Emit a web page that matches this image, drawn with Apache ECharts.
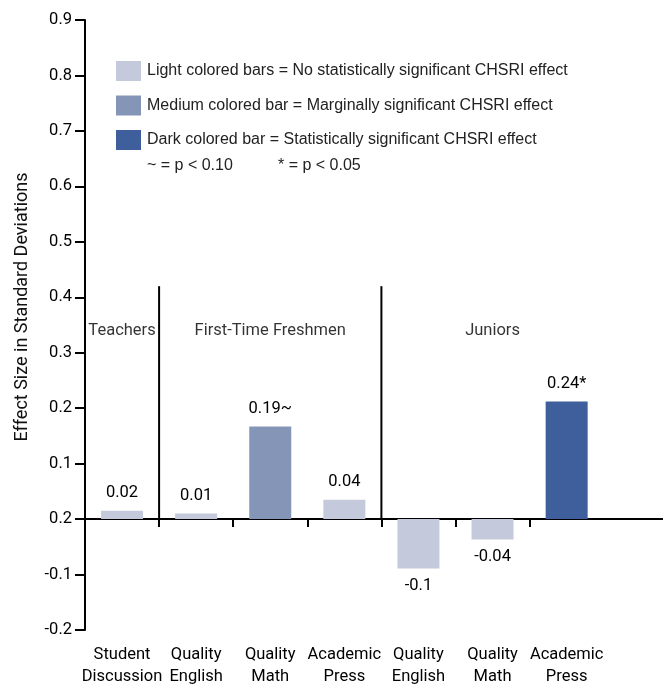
<!DOCTYPE html>
<html>
<head>
<meta charset="utf-8">
<title>Effect Size in Standard Deviations</title>
<script src="https://cdn.jsdelivr.net/npm/echarts@6/dist/echarts.min.js"></script>
<style>
  html, body { margin: 0; padding: 0; background: #fff; }
  #chart { width: 663px; height: 686px; }
</style>
</head>
<body>
<div id="chart"></div>
<script>
var categories = ['Student\nDiscussion', 'Quality\nEnglish', 'Quality\nMath', 'Academic\nPress', 'Quality\nEnglish', 'Quality\nMath', 'Academic\nPress', ''];
var values = [0.015, 0.01, 0.167, 0.035, -0.089, -0.037, 0.212];
var valueLabels = ['0.02', '0.01', '0.19~', '0.04', '-0.1', '-0.04', '0.24*'];
// 0 = light, 1 = medium, 2 = dark
var significance = [0, 0, 1, 0, 0, 0, 2];
var levelNames = [
  'Light colored bars = No statistically significant CHSRI effect',
  'Medium colored bar = Marginally significant CHSRI effect',
  'Dark colored bar = Statistically significant CHSRI effect'
];
var groups = ['Teachers', 'First-Time Freshmen', 'Juniors'];
var groupCenters = [0, 2, 5];
var groupDividers = [1, 4];
var yTickLabels = ['-0.2', '-0.1', '0.2', '0.1', '0.2', '0.3', '0.4', '0.5', '0.6', '0.7', '0.8', '0.9'];

var levelColors = ['#C4C9DB', '#8595B7', '#3E5F9C'];
var regular = '"Liberation Sans", Arial, sans-serif';
var narrow = 'Roboto, sans-serif';
var groupLabelLevel = 0.34;
var dividerTop = 0.42;

var chart = echarts.init(document.getElementById('chart'));

var series = levelNames.map(function (name, level) {
  return {
    name: name,
    type: 'bar',
    xAxisIndex: 0,
    barWidth: 42,
    barGap: '-100%',
    itemStyle: { color: levelColors[level] },
    label: {
      show: true,
      distance: 9,
      fontFamily: narrow,
      fontSize: 16.5,
      color: '#000',
      formatter: function (p) { return valueLabels[p.dataIndex]; }
    },
    data: values.map(function (v, i) {
      if (significance[i] !== level) return '-';
      return { value: v, label: { position: v < 0 ? 'bottom' : 'top' } };
    })
  };
});

// group titles
series.push({
  type: 'scatter',
  xAxisIndex: 0,
  symbolSize: 1,
  silent: true,
  itemStyle: { color: 'transparent' },
  label: {
    show: true,
    position: 'inside',
    fontFamily: narrow,
    fontSize: 16.5,
    color: '#000',
    formatter: '{b}'
  },
  data: groups.map(function (g, i) {
    return { name: g, value: [groupCenters[i], groupLabelLevel] };
  })
});

// vertical dividers between groups
groupDividers.forEach(function (d) {
  series.push({
    type: 'line',
    xAxisIndex: 2,
    symbol: 'none',
    silent: true,
    lineStyle: { color: '#000', width: 2 },
    data: [[d, 0], [d, dividerTop]]
  });
});

chart.setOption({
  animation: false,
  grid: { left: 85, top: 20, bottom: 56, width: 8 * 74.1, outerBoundsMode: 'none' },
  legend: {
    data: levelNames,
    orient: 'vertical',
    left: 111,
    top: 56,
    itemWidth: 25,
    itemHeight: 20,
    itemGap: 14.5,
    icon: 'rect',
    selectedMode: false,
    textStyle: { fontFamily: regular, fontSize: 16, color: '#222', padding: [10, 0, 0, 1] }
  },
  graphic: [
    { type: 'text', left: 147, top: 158, style: { text: '~ = p < 0.10', font: '16px ' + regular, fill: '#222' } },
    { type: 'text', left: 278, top: 158, style: { text: '* = p < 0.05', font: '16px ' + regular, fill: '#222' } }
  ],
  xAxis: [
    {
      type: 'category',
      data: categories,
      position: 'bottom',
      axisLine: { show: false, onZero: false },
      axisTick: { show: false },
      axisLabel: { interval: 0, margin: 14, fontFamily: narrow, fontSize: 16.5, lineHeight: 22, color: '#000' }
    },
    {
      type: 'category',
      data: categories,
      position: 'top',
      axisLine: { show: true, onZero: true, lineStyle: { color: '#000', width: 2 } },
      axisTick: {
        show: true,
        inside: true,
        length: 8,
        lineStyle: { color: '#000', width: 2 },
        interval: function (i) { return i >= 1 && i <= 6; }
      },
      axisLabel: { show: false }
    },
    { type: 'value', min: 0, max: 8, show: false }
  ],
  yAxis: {
    type: 'value',
    min: -0.2,
    max: 0.9,
    interval: 0.1,
    name: 'Effect Size in Standard Deviations',
    nameLocation: 'middle',
    nameGap: 54,
    nameTextStyle: { fontFamily: narrow, fontSize: 18, color: '#111', padding: [0, 0, 0, 36] },
    axisLine: { show: true, lineStyle: { color: '#000', width: 2 } },
    axisTick: { show: true, length: 10, lineStyle: { color: '#000', width: 2 } },
    splitLine: { show: false },
    axisLabel: {
      margin: 13,
      fontFamily: narrow,
      fontSize: 16.5,
      color: '#000',
      formatter: function (v) { return yTickLabels[Math.round(v * 10) + 2]; }
    }
  },
  series: series
});
</script>
</body>
</html>
